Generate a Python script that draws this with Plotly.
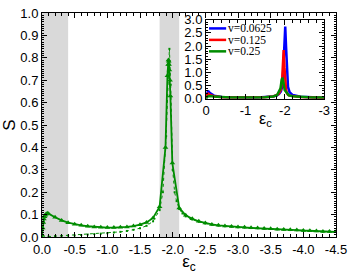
import plotly.graph_objects as go

# ---------------- data ----------------
eps_main = [0, -0.01, -0.02, -0.03, -0.04, -0.05, -0.06, -0.08, -0.1,
            -0.2, -0.3, -0.4, -0.5, -0.6, -0.7, -0.8, -0.9, -1.0, -1.1, -1.2,
            -1.3, -1.4, -1.5, -1.6, -1.7, -1.8, -1.89, -1.92, -1.93, -1.935,
            -1.94, -1.945, -1.95, -1.96, -1.965, -1.995, -2.1,
            -2.2, -2.3, -2.4, -2.5, -2.6, -2.7, -2.8, -2.9, -3.0, -3.1, -3.2,
            -3.3, -3.4, -3.5, -3.6, -3.7, -3.8, -3.9, -4.0, -4.1, -4.2, -4.3,
            -4.4, -4.5]
s_main = [0.01, 0.04, 0.065, 0.08, 0.09, 0.097, 0.102, 0.106, 0.104,
          0.088, 0.074, 0.064, 0.057, 0.052, 0.048, 0.045, 0.043, 0.042, 0.042, 0.043,
          0.045, 0.049, 0.055, 0.065, 0.085, 0.135, 0.40, 0.72, 0.77, 0.79,
          0.785, 0.77, 0.745, 0.70, 0.63, 0.33, 0.13,
          0.097, 0.081, 0.070, 0.062, 0.056, 0.052, 0.049, 0.047, 0.045, 0.043, 0.041,
          0.040, 0.038, 0.037, 0.035, 0.034, 0.032, 0.031, 0.029, 0.028, 0.027, 0.025,
          0.024, 0.023]

eps_dot = [0, -0.1, -0.2, -0.3, -0.4, -0.5, -0.6, -0.7, -0.8, -0.9, -1.0,
           -1.1, -1.2, -1.3, -1.4, -1.5, -1.6, -1.7, -1.8, -1.85, -1.9, -1.93,
           -1.95, -1.97, -2.0, -2.03, -2.06, -2.1, -2.15, -2.2, -2.3, -2.4, -2.5,
           -2.6, -2.7, -2.8, -2.9, -3.0, -3.1, -3.2, -3.3, -3.4, -3.5, -3.6, -3.7,
           -3.8, -3.9, -4.0, -4.1, -4.2, -4.3, -4.4, -4.5]
s_dot = [0.0, 0.002, 0.004, 0.005, 0.006, 0.007, 0.009, 0.011, 0.013, 0.015, 0.017,
         0.020, 0.023, 0.027, 0.032, 0.039, 0.050, 0.070, 0.12, 0.20, 0.45, 0.72,
         0.84, 0.68, 0.30, 0.20, 0.16, 0.125, 0.105, 0.092, 0.078, 0.068, 0.060,
         0.055, 0.051, 0.048, 0.046, 0.044, 0.042, 0.040, 0.039, 0.037, 0.036, 0.034, 0.033,
         0.031, 0.030, 0.028, 0.027, 0.026, 0.024, 0.023, 0.022]

eps_inset = [0, -0.02, -0.05, -0.1, -0.2, -0.4, -0.7, -1.0, -1.3, -1.5, -1.7,
             -1.8, -1.85, -1.9, -1.93, -1.95, -1.97, -1.99, -2.01, -2.03, -2.05,
             -2.08, -2.12, -2.2, -2.4, -2.7, -3.0]
s_v0625 = [0.02, 0.20, 0.30, 0.22, 0.12, 0.07, 0.05, 0.045, 0.05, 0.06, 0.09,
           0.13, 0.18, 0.28, 0.45, 0.80, 1.50, 2.40, 2.74, 2.00, 1.00,
           0.45, 0.25, 0.14, 0.08, 0.05, 0.04]
s_v0125 = [0.02, 0.15, 0.20, 0.15, 0.10, 0.06, 0.045, 0.045, 0.05, 0.06, 0.09,
           0.14, 0.20, 0.35, 0.70, 1.30, 1.85, 1.20, 0.60, 0.35, 0.22,
           0.15, 0.12, 0.10, 0.07, 0.05, 0.04]

legend_labels = ["v=0.0625", "v=0.125", "v=0.25"]
legend_colors = ["#0000ff", "#ff0000", "#008c00"]

x_ticks = [0, -0.5, -1.0, -1.5, -2.0, -2.5, -3.0, -3.5, -4.0, -4.5]
x_tick_text = ["0.0", "-0.5", "-1.0", "-1.5", "-2.0", "-2.5", "-3.0", "-3.5", "-4.0", "-4.5"]
y_ticks = [0, 0.1, 0.2, 0.3, 0.4, 0.5, 0.6, 0.7, 0.8, 0.9, 1.0]
y_tick_text = ["0.0", "0.1", "0.2", "0.3", "0.4", "0.5", "0.6", "0.7", "0.8", "0.9", "1.0"]
in_x_ticks = [0, -1, -2, -3]
in_x_text = ["0", "-1", "-2", "-3"]
in_y_ticks = [0, 0.5, 1.0, 1.5, 2.0, 2.5, 3.0]
in_y_text = ["0.0", "0.5", "1.0", "1.5", "2.0", "2.5", "3.0"]

shaded = [(0, -0.4), (-1.8, -2.1)]

GREEN = "#008c00"
FONT = "Liberation Sans, Arial, sans-serif"

fig = go.Figure()

# main: dotted series
fig.add_trace(go.Scatter(x=eps_dot, y=s_dot, mode="lines+markers",
                         line=dict(color=GREEN, width=1, dash="dot"),
                         marker=dict(symbol="square", size=2, color=GREEN),
                         showlegend=False, xaxis="x", yaxis="y"))
# main: solid series
fig.add_trace(go.Scatter(x=eps_main, y=s_main, mode="lines+markers",
                         line=dict(color=GREEN, width=1.8),
                         marker=dict(symbol="triangle-up", size=5, color=GREEN),
                         showlegend=False, xaxis="x", yaxis="y"))

# inset
fig.add_trace(go.Scatter(x=eps_inset, y=s_v0625, mode="lines",
                         line=dict(color=legend_colors[0], width=2.5),
                         showlegend=False, xaxis="x2", yaxis="y2"))
fig.add_trace(go.Scatter(x=eps_inset, y=s_v0125, mode="lines",
                         line=dict(color=legend_colors[1], width=2.5),
                         showlegend=False, xaxis="x2", yaxis="y2"))
fig.add_trace(go.Scatter(x=eps_main, y=s_main, mode="lines",
                         line=dict(color=legend_colors[2], width=2.5),
                         showlegend=False, xaxis="x2", yaxis="y2"))

shapes = []
for a, b in shaded:
    shapes.append(dict(type="rect", xref="x", yref="y domain", x0=a, x1=b, y0=0, y1=1,
                       fillcolor="#d9d9d9", line=dict(width=0), layer="below"))

# compact legend inside inset
annotations = []
row_y = [0.89, 0.745, 0.60]
for lab, col, ry in zip(legend_labels, legend_colors, row_y):
    shapes.append(dict(type="line", xref="x2 domain", yref="y2 domain",
                       x0=0.025, x1=0.17, y0=ry, y1=ry,
                       line=dict(color=col, width=2.5)))
    annotations.append(dict(xref="x2 domain", yref="y2 domain", x=0.18, y=ry,
                            text=lab, showarrow=False, xanchor="left", yanchor="middle",
                            borderpad=0,
                            font=dict(family="Liberation Serif, Times New Roman, serif",
                                      size=11.5, color="black")))

# inset axis title
annotations.append(dict(xref="x2 domain", yref="y2 domain", x=0.5, y=-0.26,
                        text="ε<sub>c</sub>", showarrow=False, xanchor="center",
                        yanchor="middle",
                        font=dict(family=FONT, size=16, color="black")))

axis_common = dict(showgrid=False, zeroline=False, showline=True, linecolor="black",
                   linewidth=1, mirror="allticks", ticks="inside", tickcolor="black",
                   tickfont=dict(family=FONT, size=13, color="black"))

fig.update_layout(
    width=353, height=274,
    margin=dict(l=38, r=12, t=6, b=33),
    paper_bgcolor="white", plot_bgcolor="white",
    shapes=shapes, annotations=annotations,
    xaxis=dict(domain=[0, 1], range=[0, -4.5], tickvals=x_ticks, ticktext=x_tick_text,
               ticklen=5, minor=dict(dtick=0.1, ticklen=3, ticks="inside", tickcolor="black"),
               title=dict(text="ε<sub>c</sub>", font=dict(family=FONT, size=17, color="black"),
                          standoff=0),
               anchor="y", **axis_common),
    yaxis=dict(domain=[0, 1], range=[0, 1.0], tickvals=y_ticks, ticktext=y_tick_text,
               ticklen=5, minor=dict(dtick=0.01, ticklen=2, ticks="inside", tickcolor="black"),
               title=dict(text="S", font=dict(family=FONT, size=17, color="black"),
                          standoff=2),
               anchor="x", **axis_common),
    xaxis2=dict(domain=[0.558, 0.960], range=[0, -3], tickvals=in_x_ticks, ticktext=in_x_text,
                ticklen=5, minor=dict(dtick=0.2, ticklen=3, ticks="inside", tickcolor="black"),
                anchor="y2", **axis_common),
    yaxis2=dict(domain=[0.617, 0.970], range=[0, 3.0], tickvals=in_y_ticks, ticktext=in_y_text,
                ticklen=5, minor=dict(dtick=0.1, ticklen=2, ticks="inside", tickcolor="black"),
                anchor="x2", **axis_common),
)

fig.write_html("out.html", config={"displayModeBar": False},
               post_script="document.body.style.margin='0';document.body.style.overflow='hidden';")
